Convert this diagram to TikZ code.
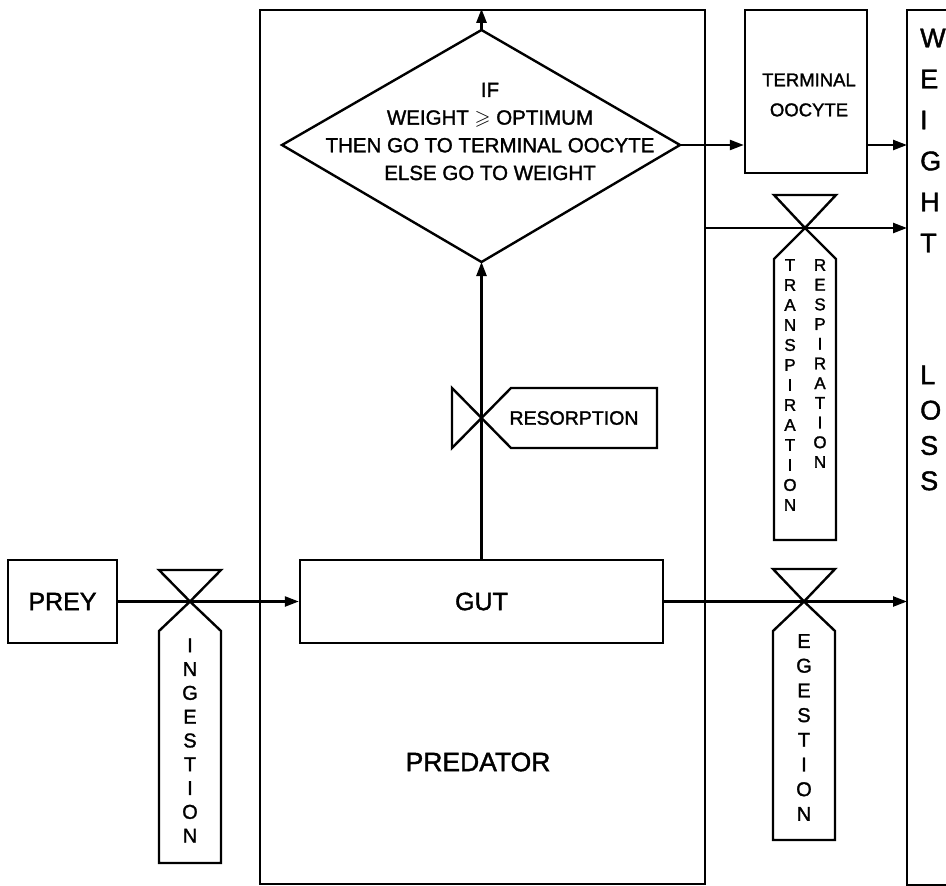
\documentclass[tikz,border=0pt]{standalone}
\usepackage{amssymb}
\usepackage{fontspec}
\setmainfont{Liberation Sans}[FakeBold=1.5]
\usetikzlibrary{arrows.meta}
\begin{document}
\begin{tikzpicture}[x=1pt,y=-1pt,line width=2.4pt,
  box/.style={draw,rectangle,inner sep=0pt,line width=2.4pt},
  flow/.style={-{Triangle[length=14pt,width=10pt]},line width=2.4pt},
  lbl/.style={inner sep=0pt,align=center},
  vtxt/.style={inner sep=0pt,align=center},
  valve/.style={draw,line width=2.4pt,line join=miter}
]
\useasboundingbox (0,0) rectangle (946,886);
\fill[white] (0,0) rectangle (946,886);

% boxes
\node[box,minimum width=445pt,minimum height=874pt] (pred) at (482.5,447) {};
\node[lbl,font=\fontsize{26.5}{30}\selectfont] (predlbl) at (478,762) {PREDATOR};
\node[box,minimum width=109pt,minimum height=83pt,font=\fontsize{25}{30}\selectfont] (prey) at (62.5,601.5) {PREY};
\node[box,minimum width=363pt,minimum height=83pt,font=\fontsize{25}{30}\selectfont] (gut) at (481.5,601.5) {GUT};
\node[box,minimum width=122pt,minimum height=163pt] (ooc) at (806,91.5) {};
\node[lbl,font=\fontsize{18.5}{30}\selectfont] (ooctxt) at (809,95) {TERMINAL\\OOCYTE};

% weight loss box (open to the right)
\coordinate (wl) at (907,10);
\draw (950,10) -- (wl) -- (907,885) -- (950,885);
\node[inner sep=0pt,align=left,anchor=west,font=\fontsize{27}{41}\selectfont] (wtxt) at (919,140.5) {W\\E\\I\\G\\H\\T};
\node[inner sep=0pt,align=left,anchor=west,font=\fontsize{27}{35.3}\selectfont] (ltxt) at (919,428) {L\\O\\S\\S};

% decision diamond
\coordinate (dtop) at (481.5,30);
\coordinate (dbot) at (481.5,262);
\coordinate (dleft) at (282,145);
\coordinate (dright) at (680,145);
\draw[line join=miter] (dtop) -- (dright) -- (dbot) -- (dleft) -- cycle;
\node[lbl,font=\fontsize{20.5}{27.7}\selectfont] (dtxt) at (490,131.5)
  {IF\\WEIGHT $\geqslant$ OPTIMUM\\THEN GO TO TERMINAL OOCYTE\\ELSE GO TO WEIGHT};

% connectors
\coordinate (trY) at (0,228);
\draw[flow] (prey.east) -- (gut.west);
\draw[flow] (gut.north) -- (dbot);
\draw[flow] (dtop) -- (dtop |- pred.north);
\draw[flow] (dright) -- (dright -| ooc.west);
\draw[flow] (dright -| ooc.east) -- (dright -| wl);
\draw[flow] (pred.east |- trY) -- (wl |- trY);
\draw[flow] (gut.east) -- (gut.east -| wl);

% ingestion valve
\draw[valve] (159,570) -- (221,570) -- (190,601.5) -- cycle;
\draw[valve] (190,601.5) -- (159,631) -- (159,863) -- (221,863) -- (221,631) -- cycle;
\node[vtxt,font=\fontsize{20}{23.8}\selectfont] (ingtxt) at (190,740.5) {I\\N\\G\\E\\S\\T\\I\\O\\N};

% resorption valve
\draw[valve] (452,388) -- (452,448) -- (481.5,418) -- cycle;
\draw[valve] (481.5,418) -- (511,388) -- (657,388) -- (657,448) -- (511,448) -- cycle;
\node[lbl,font=\fontsize{19.5}{22}\selectfont] (restxt) at (574,418) {RESORPTION};

% transpiration / respiration valve
\draw[valve] (774,195) -- (836,195) -- (805,228) -- cycle;
\draw[valve] (805,228) -- (774,259) -- (774,540) -- (836,540) -- (836,259) -- cycle;
\node[vtxt,font=\fontsize{17}{20}\selectfont] (trtxt) at (790,385) {T\\R\\A\\N\\S\\P\\I\\R\\A\\T\\I\\O\\N};
\node[vtxt,font=\fontsize{17}{19.7}\selectfont] (retxt) at (820,363.5) {R\\E\\S\\P\\I\\R\\A\\T\\I\\O\\N};

% egestion valve
\draw[valve] (773,569) -- (835,569) -- (804,601.5) -- cycle;
\draw[valve] (804,601.5) -- (773,631) -- (773,840) -- (835,840) -- (835,631) -- cycle;
\node[vtxt,font=\fontsize{20}{24.7}\selectfont] (egtxt) at (804,727.5) {E\\G\\E\\S\\T\\I\\O\\N};
\end{tikzpicture}
\end{document}
